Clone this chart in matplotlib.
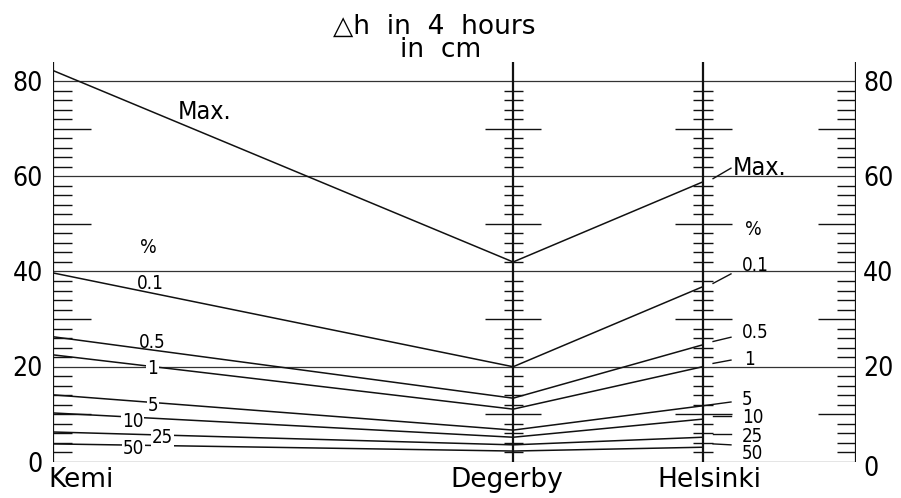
import matplotlib.pyplot as plt

# percentage levels and water level rise (cm in 4 hours) at each station
levels = ["Max.", "0.1", "0.5", "1", "5", "10", "25", "50"]
kemi = [82.2, 39.7, 26.3, 22.5, 14.1, 10.3, 6.3, 3.8]
degerby = [42.0, 20.0, 13.4, 11.1, 6.7, 5.2, 3.6, 2.3]
helsinki = [58.8, 36.8, 24.6, 20.0, 11.8, 9.0, 5.2, 3.1]

stations = ["Kemi", "Degerby", "Helsinki"]
yticks = [0, 20, 40, 60, 80]
title = "\u25b3h  in  4  hours\n        in  cm"

# layout (axes fraction along x, cm along y)
station_x = [0.0, 0.573, 0.809]
right_x = 1.0

left_lab_x = [0.155, 0.105, 0.107, 0.117, 0.118, 0.086, 0.123, 0.087]
left_lab_y = [72.0, 36.3, 23.9, 18.5, 10.7, 7.3, 4.0, 1.7]
left_boxed = [False, False, False, True, True, True, True, True]

right_lab_x = [0.847, 0.858, 0.858, 0.861, 0.858, 0.858, 0.858, 0.858]
right_lab_y = [60.3, 40.1, 26.0, 20.4, 12.0, 8.2, 4.2, 0.6]
leader_end = [61.7, 39.5, 26.2, 21.4, 12.6, 9.7, 5.9, 3.6]

FONT = ["DejaVu Sans"]
INK = "#111111"


def draw_ticks(ax, x, left, right):
    minor = [v for v in range(2, 80, 2) if v % 10 != 0]
    major = [10, 30, 50, 70]
    ax.hlines(minor, x - left[0], x + right[0], color=INK, lw=1.0)
    ax.hlines(major, x - left[1], x + right[1], color=INK, lw=1.0)


def label(ax, x, y, s, size, stretch="condensed", **kw):
    kw.setdefault("ha", "left")
    kw.setdefault("va", "baseline")
    return ax.text(x, y, s, fontsize=size, family=FONT, fontstretch=stretch,
                   **kw)


def main():
    fig = plt.figure(figsize=(9.01, 4.98), dpi=100)
    ax = fig.add_axes([53 / 901, 36 / 498, 803 / 901, 84.5 * 4.7625 / 498])
    ax.set_xlim(0, 1)
    ax.set_ylim(0, 84.5)
    ax.axis("off")

    # frame: horizontal grid and the vertical station axes
    ax.hlines(yticks, 0, right_x, color="#333333", lw=0.9)
    ax.vlines(station_x + [right_x], 0, 84, color=INK, lw=1.6)

    draw_ticks(ax, station_x[0], (0, 0), (0.0237, 0.0473))
    draw_ticks(ax, station_x[1], (0.0118, 0.0349), (0.0118, 0.0349))
    draw_ticks(ax, station_x[2], (0.0125, 0.035), (0.0125, 0.036))
    draw_ticks(ax, right_x, (0.0237, 0.0473), (0, 0))

    for i, name in enumerate(levels):
        ax.plot(station_x, [kemi[i], degerby[i], helsinki[i]],
                color=INK, lw=1.1, zorder=3)

        size = 18 if name == "Max." else 13.5
        box = None
        if left_boxed[i]:
            box = dict(boxstyle="square,pad=0.05", fc="white", ec="none")
        label(ax, left_lab_x[i], left_lab_y[i], name, size, bbox=box, zorder=4)

        x0 = station_x[2] if name == "5" else 0.822
        y0 = helsinki[i] if name == "5" else helsinki[i] + 0.7
        ax.plot([x0, 0.8443], [y0, leader_end[i]], color=INK, lw=1.0)
        label(ax, right_lab_x[i], right_lab_y[i], name, size)

    label(ax, 0.108, 43.9, "%", 14)
    label(ax, 0.862, 47.7, "%", 14)

    for v in yticks:
        label(ax, -0.0125, v - 2.0, str(v), 19, ha="right", clip_on=False)
        label(ax, 1.0087, v - 2.0 - (1.0 if v == 0 else 0), str(v), 19,
              clip_on=False)

    label(ax, -0.006, -5.3, stations[0], 19, "normal", clip_on=False)
    label(ax, 0.565, -5.3, stations[1], 19, "normal", ha="center",
          clip_on=False)
    label(ax, 0.818, -5.3, stations[2], 19, "normal", ha="center",
          clip_on=False)

    fig.text(0.3696, 0.8855, title, fontsize=19, family=FONT,
             ha="left", va="baseline", linespacing=0.85, multialignment="left")

    fig.savefig("out.png", dpi=100, facecolor="white")


if __name__ == "__main__":
    main()
